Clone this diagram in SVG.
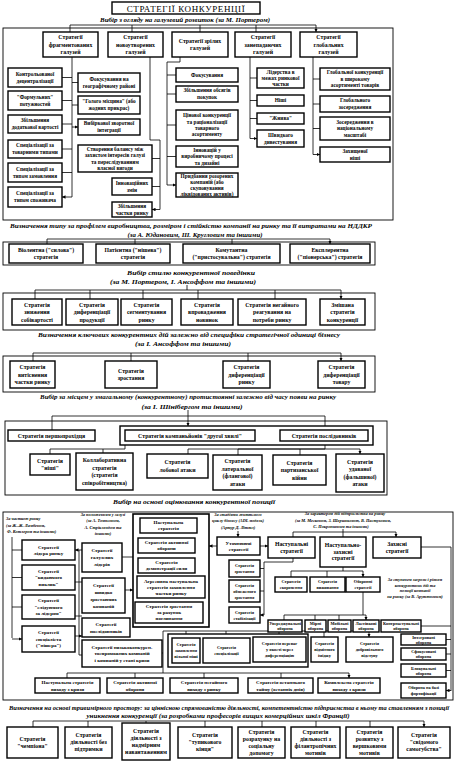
<svg xmlns="http://www.w3.org/2000/svg" width="456" height="765" viewBox="0 0 456 765">
<style>
.b{fill:#fff;stroke:#000;stroke-width:1.4}
.f{fill:none;stroke:#000;stroke-width:0.9}
.l{fill:none;stroke:#000;stroke-width:0.8}
.la{fill:none;stroke:#000;stroke-width:0.8;marker-end:url(#a)}
.ld{fill:none;stroke:#000;stroke-width:0.8;marker-end:url(#a);marker-start:url(#a)}
text{font-family:"Liberation Serif","Times New Roman",serif;font-weight:bold;text-anchor:middle;fill:#000}
.t{font-size:5.3px}
.tt{font-size:5.8px}
.s{font-size:5px}
.xs{font-size:4.3px}
.c{font-size:6.4px;font-style:italic}
.sc{font-size:4.3px;font-style:italic}
.h{font-size:9px;font-weight:normal;letter-spacing:0.6px}
</style>
<defs>
<marker id="a" viewBox="0 0 6 6" refX="6" refY="3" markerWidth="3.5" markerHeight="3.5" orient="auto-start-reverse" markerUnits="userSpaceOnUse"><path d="M0,0L6,3L0,6z"/></marker>
</defs>
<rect width="456" height="765" fill="#fff"/>

<g id="title"><rect class="b" x="112" y="2" width="148" height="12"/><text class="h" x="186" y="11.5">СТРАТЕГІЇ  КОНКУРЕНЦІЇ</text></g>
<g id="captions">
<text class="c" x="185" y="21.5" textLength="170" lengthAdjust="spacingAndGlyphs">Вибір з огляду на галузевий розвиток (за М. Портером)</text>
<text class="c" x="191" y="228" textLength="362" lengthAdjust="spacingAndGlyphs">Визначення типу за профілем виробництва, розміром і стійкістю компанії на ринку та її витратами на НДДКР</text>
<text class="c" x="195" y="237" textLength="135" lengthAdjust="spacingAndGlyphs">(за А. Юдановим, Ш. Кругловим та іншими)</text>
<text class="c" x="191" y="275" textLength="128" lengthAdjust="spacingAndGlyphs">Вибір стилю конкурентної поведінки</text>
<text class="c" x="183" y="284" textLength="146" lengthAdjust="spacingAndGlyphs">(за М. Портером, І. Ансоффом та іншими)</text>
<text class="c" x="189" y="337" textLength="302" lengthAdjust="spacingAndGlyphs">Визначення ключових конкурентних дій залежно від специфіки стратегічної одиниці бізнесу</text>
<text class="c" x="183" y="346" textLength="96" lengthAdjust="spacingAndGlyphs">(за І. Ансоффом та іншими)</text>
<text class="c" x="188" y="399" textLength="296" lengthAdjust="spacingAndGlyphs">Вибір за місцем у змагальному (конкурентному) протистоянні залежно від часу появи на ринку</text>
<text class="c" x="192" y="409" textLength="101" lengthAdjust="spacingAndGlyphs">(за І. Шінібергом та іншими)</text>
<text class="c" x="194" y="504" textLength="162" lengthAdjust="spacingAndGlyphs">Вибір на основі оцінювання конкурентної позиції</text>
<text class="c" x="229" y="710" textLength="440" lengthAdjust="spacingAndGlyphs">Визначення на основі тривимірного простору: за ціннісною спрямованістю діяльності, компетентністю підприємства в ньому та ставленням з позиції</text>
<text class="c" x="218" y="718" textLength="263" lengthAdjust="spacingAndGlyphs">уникнення конкуренції (за розробками професорів вищих комерційних шкіл Франції)</text>
<text class="sc" x="6" y="520" style="text-anchor:start">За часткою ринку</text>
<text class="sc" x="6" y="526.5" style="text-anchor:start">(за Ж.-Ж. Ламбеном,</text>
<text class="sc" x="7" y="533" style="text-anchor:start">Ф. Котлером та іншими)</text>
<text class="sc" x="103" y="515.5">За положенням у галузі</text>
<text class="sc" x="103" y="522">(за А. Томпсоном,</text>
<text class="sc" x="103" y="528.5">А. Стріклендом та</text>
<text class="sc" x="103" y="535">іншими)</text>
<text class="sc" x="238" y="515.5">За стадіями життєвого</text>
<text class="sc" x="238" y="522">циклу бізнесу (ADL модель)</text>
<text class="sc" x="238" y="528.5">(Артур Д. Літтл)</text>
<text class="sc" x="345" y="515">За характером дій підприємства на ринку</text>
<text class="sc" x="343" y="521.5">(за М. Месконом, З. Шершньовою, В. Пастуховим,</text>
<text class="sc" x="341" y="528">С. Покропивним та іншими)</text>
<text class="sc" x="415" y="581">За ступенем загрози і рівнем</text>
<text class="sc" x="415" y="586.5">конкурентних дій та</text>
<text class="sc" x="415" y="592">позиції компанії</text>
<text class="sc" x="415" y="597.5">на ринку (за В. Арутюновим)</text>
</g>

<g id="frames">
<rect class="f" x="3" y="28" width="390" height="192"/>
<rect class="f" x="3" y="242" width="372" height="23"/>
<rect class="f" x="3" y="293" width="372" height="37"/>
<rect class="f" x="3" y="356" width="372" height="36"/>
<rect class="f" x="5" y="421" width="382" height="74"/>
<rect class="f" x="3" y="512" width="450" height="188"/>
</g>

<g id="connectors">
<path class="l" d="M70,25H316"/>
<path class="la" d="M70,25V32M132,25V32M200,25V32M256,25V32M316,25V32"/>
<path class="l" d="M72,57V197"/>
<path class="la" d="M72,77.5H62M72,100.5H62M72,124H62M72,149H62M72,172.5H62M72,197H62"/>
<path class="la" d="M72,82.5H78M72,105H78M72,127H78"/>
<path class="l" d="M150,57V140H160V209.5"/>
<path class="la" d="M160,158.5H152M160,186.5H152M160,209.5H152"/>
<path class="l" d="M180,57V62H167V185"/>
<path class="la" d="M167,75H176M167,94H176M167,125H176M167,156.5H176M167,185H176"/>
<path class="l" d="M250,57V138.5"/>
<path class="la" d="M250,78H257M250,100.5H257M250,118.5H257M250,138.5H257"/>
<path class="l" d="M313,57V154.5"/>
<path class="la" d="M313,79H320M313,104H320M313,128.5H320M313,154.5H320"/>

<path class="l" d="M47,239H330"/>
<path class="la" d="M47,239V244M135,239V244M232,239V244M330,239V244"/>

<path class="l" d="M187,285V290M35,290H341"/>
<path class="la" d="M35,290V299M90,290V299M143,290V299M198,290V299M275,290V299M341,290V299"/>

<path class="l" d="M33,353H341"/>
<path class="la" d="M33,353V361M131,353V361M248,353V361M341,353V361"/>

<path class="l" d="M52,416H325"/>
<path class="la" d="M52,416V430M325,416V426M188,410V426"/>
<path class="l" d="M125,445V449H50M325,445V449H188M238,449H360"/>
<path class="la" d="M50,449V454M103,449V453M188,449V454M238,449V455M300,449V455M360,449V454"/>

<path class="l" d="M12,537V638"/>
<path class="la" d="M12,550H22M12,577.5H22M12,607H22M12,639H22"/>
<path class="ld" d="M75,550H82M75,582H82M75,616H82M75,636H82"/>
<path class="l" d="M79,550V655"/>
<path class="la" d="M79,655H82M122,557H133M125,590H133"/>
<path class="ld" d="M209,546H217M260,546H268"/>
<path class="la" d="M238,531V537"/>
<path class="l" d="M343,529V532M293,532H396"/>
<path class="la" d="M293,532V537M343,532V537M396,532V537"/>
<path class="l" d="M293,558V562H264V615"/>
<path class="la" d="M264,568.5H260M264,591H260M264,615H260"/>
<path class="l" d="M343,567V571M291,571H363"/>
<path class="la" d="M291,571V577M327,571V577M363,571V577"/>
<path class="l" d="M363,592V615M284,615H366"/>
<path class="la" d="M284,615V620M315,615V620M339,615V620M366,615V620"/>
<path class="l" d="M421,547H451V691"/>
<path class="la" d="M451,626H421M451,639.5H446M451,654H446M451,670.5H446M451,690.5H446"/>
<path class="l" d="M162,653H163M163,631V673M163,631H369M67,673H349"/>
<path class="la" d="M186,631V638M226,631V638M279,631V637M324,631V637M369,631V637"/>
<path class="la" d="M67,673V678M135,673V678M204,673V678M281,673V678M349,673V678"/>

<path class="l" d="M33,721H424"/>
<path class="la" d="M33,721V727M88,721V727M146,721V723M205,721V727M262,721V727M316,721V727M370,721V727M424,721V727"/>
</g>

<g id="s1_frag"><rect class="b" x="43" y="32" width="55" height="25"/><text class="tt" x="70.5" y="39">Стратегії<tspan x="70.5" dy="7.5">фрагментованих</tspan><tspan x="70.5" dy="7.5">галузей</tspan></text></g>
<g id="s1_new"><rect class="b" x="108" y="32" width="55" height="25"/><text class="tt" x="135.5" y="39">Стратегії<tspan x="135.5" dy="7.5">новоутворених</tspan><tspan x="135.5" dy="7.5">галузей</tspan></text></g>
<g id="s1_mature"><rect class="b" x="172" y="32" width="56" height="25"/><text class="tt" x="200" y="42.75">Стратегії зрілих<tspan x="200" dy="7.5">галузей</tspan></text></g>
<g id="s1_decl"><rect class="b" x="235" y="32" width="56" height="25"/><text class="tt" x="263" y="39">Стратегії<tspan x="263" dy="7.5">занепадаючих</tspan><tspan x="263" dy="7.5">галузей</tspan></text></g>
<g id="s1_glob"><rect class="b" x="300" y="32" width="57" height="25"/><text class="tt" x="328.5" y="39">Стратегії<tspan x="328.5" dy="7.5">глобальних</tspan><tspan x="328.5" dy="7.5">галузей</tspan></text></g>

<g id="f1"><rect class="b" x="8" y="68" width="54" height="19"/><text class="t" x="35" y="75.9">Контрольованої<tspan x="35" dy="7">децентралізації</tspan></text></g>
<g id="f2"><rect class="b" x="8" y="91" width="54" height="19"/><text class="t" x="35" y="98.9">"Формульних"<tspan x="35" dy="7">потужностей</tspan></text></g>
<g id="f3"><rect class="b" x="8" y="115" width="54" height="18"/><text class="t" x="35" y="122.4">Збільшення<tspan x="35" dy="7">додаткової вартості</tspan></text></g>
<g id="f4"><rect class="b" x="8" y="140" width="54" height="18"/><text class="t" x="35" y="147.4">Спеціалізації за<tspan x="35" dy="7">товарними типами</tspan></text></g>
<g id="f5"><rect class="b" x="8" y="163" width="54" height="19"/><text class="t" x="35" y="170.9">Спеціалізації за<tspan x="35" dy="7">типом замовлення</tspan></text></g>
<g id="f6"><rect class="b" x="8" y="187" width="54" height="20"/><text class="t" x="35" y="195.4">Спеціалізації за<tspan x="35" dy="7">типом споживача</tspan></text></g>
<g id="f7"><rect class="b" x="78" y="73" width="62" height="19"/><text class="t" x="109" y="80.9">Фокусування на<tspan x="109" dy="7">географічному районі</tspan></text></g>
<g id="f8"><rect class="b" x="78" y="96" width="62" height="18"/><text class="t" x="109" y="103.4">"Голого місцина" (або<tspan x="109" dy="7">жодних прикрас)</tspan></text></g>
<g id="f9"><rect class="b" x="78" y="119" width="62" height="16"/><text class="t" x="109" y="125.4">Вибіркової зворотної<tspan x="109" dy="7">інтеграції</tspan></text></g>
<g id="n1"><rect class="b" x="78" y="145" width="74" height="27"/><text class="t" x="115" y="150.9">Створення балансу між<tspan x="115" dy="6.3">захистом інтересів галузі</tspan><tspan x="115" dy="6.3">та переслідуванням</tspan><tspan x="115" dy="6.3">власної вигоди</tspan></text></g>
<g id="n2"><rect class="b" x="112" y="178" width="40" height="17"/><text class="t" x="132" y="184.9">Інноваційних<tspan x="132" dy="7">змін</tspan></text></g>
<g id="n3"><rect class="b" x="112" y="202" width="40" height="15"/><text class="t" x="132" y="207.9">Збільшення<tspan x="132" dy="7">частки ринку</tspan></text></g>
<g id="m1"><rect class="b" x="176" y="68" width="62" height="14"/><text class="t" x="207" y="76.9">Фокусування</text></g>
<g id="m2"><rect class="b" x="176" y="86" width="62" height="16"/><text class="t" x="207" y="92.4">Збільшення обсягів<tspan x="207" dy="7">покупок</tspan></text></g>
<g id="m3"><rect class="b" x="176" y="110" width="62" height="30"/><text class="t" x="207" y="117.4">Цінової конкуренції<tspan x="207" dy="6.3">та раціоналізації</tspan><tspan x="207" dy="6.3">товарного</tspan><tspan x="207" dy="6.3">асортименту</tspan></text></g>
<g id="m4"><rect class="b" x="176" y="146" width="62" height="21"/><text class="t" x="207" y="151.9">Інновацій у<tspan x="207" dy="6.5">виробничому процесі</tspan><tspan x="207" dy="6.5">та дизайні</tspan></text></g>
<g id="m5"><rect class="b" x="176" y="173" width="62" height="24"/><text class="t" x="207" y="178.2">Придбання розорених<tspan x="207" dy="5.8">компаній (або</tspan><tspan x="207" dy="5.8">скуповування</tspan><tspan x="207" dy="5.8">ліквідованих активів)</tspan></text></g>
<g id="d1"><rect class="b" x="257" y="68" width="47" height="20"/><text class="t" x="280.5" y="73.9">Лідерства в<tspan x="280.5" dy="6">межах ринкової</tspan><tspan x="280.5" dy="6">частки</tspan></text></g>
<g id="d2"><rect class="b" x="257" y="95" width="47" height="11"/><text class="t" x="280.5" y="102.4">Ніші</text></g>
<g id="d3"><rect class="b" x="257" y="113" width="47" height="11"/><text class="t" x="280.5" y="120.4">"Жнива"</text></g>
<g id="d4"><rect class="b" x="257" y="130" width="47" height="17"/><text class="t" x="280.5" y="136.9">Швидкого<tspan x="280.5" dy="7">дивестування</tspan></text></g>
<g id="g1"><rect class="b" x="320" y="68" width="70" height="22"/><text class="t" x="355" y="74.4">Глобальної конкуренції<tspan x="355" dy="6.5">в широкому</tspan><tspan x="355" dy="6.5">асортименті товарів</tspan></text></g>
<g id="g2"><rect class="b" x="320" y="96" width="70" height="16"/><text class="t" x="355" y="102.4">Глобального<tspan x="355" dy="7">зосередження</tspan></text></g>
<g id="g3"><rect class="b" x="320" y="117" width="70" height="23"/><text class="t" x="355" y="123.9">Зосередження в<tspan x="355" dy="6.5">національному</tspan><tspan x="355" dy="6.5">масштабі</tspan></text></g>
<g id="g4"><rect class="b" x="320" y="147" width="70" height="15"/><text class="t" x="355" y="152.9">Захищеної<tspan x="355" dy="7">ніші</tspan></text></g>

<g id="s2a"><rect class="b" x="9" y="244" width="74" height="19"/><text class="tt" x="46" y="251.9">Віолентна ("силова")<tspan x="46" dy="7.5">стратегія</tspan></text></g>
<g id="s2b"><rect class="b" x="96" y="244" width="74" height="19"/><text class="tt" x="133" y="251.9">Патієнтна ("нішева")<tspan x="133" dy="7.5">стратегія</tspan></text></g>
<g id="s2c"><rect class="b" x="183" y="244" width="97" height="19"/><text class="tt" x="231.5" y="251.9">Комутантна<tspan x="231.5" dy="7.5">("пристосувальна") стратегія</tspan></text></g>
<g id="s2d"><rect class="b" x="290" y="244" width="80" height="19"/><text class="tt" x="330" y="251.9">Експлерентна<tspan x="330" dy="7.5">("піонерська") стратегія</tspan></text></g>

<g id="s3a"><rect class="b" x="12" y="299" width="50" height="26"/><text class="tt" x="37" y="306.5">Стратегія<tspan x="37" dy="7.5">зниження</tspan><tspan x="37" dy="7.5">собівартості</tspan></text></g>
<g id="s3b"><rect class="b" x="66" y="299" width="52" height="26"/><text class="tt" x="92" y="306.5">Стратегія<tspan x="92" dy="7.5">диференціації</tspan><tspan x="92" dy="7.5">продукції</tspan></text></g>
<g id="s3c"><rect class="b" x="121" y="299" width="51" height="26"/><text class="tt" x="146.5" y="306.5">Стратегія<tspan x="146.5" dy="7.5">сегментування</tspan><tspan x="146.5" dy="7.5">ринку</tspan></text></g>
<g id="s3d"><rect class="b" x="181" y="299" width="52" height="26"/><text class="tt" x="207" y="306.5">Стратегія<tspan x="207" dy="7.5">впровадження</tspan><tspan x="207" dy="7.5">новинок</tspan></text></g>
<g id="s3e"><rect class="b" x="238" y="299" width="68" height="26"/><text class="tt" x="272" y="306.5">Стратегія  негайного<tspan x="272" dy="7.5">реагування на</tspan><tspan x="272" dy="7.5">потреби ринку</tspan></text></g>
<g id="s3f"><rect class="b" x="320" y="299" width="45" height="26"/><text class="tt" x="342.5" y="306.5">Змішана<tspan x="342.5" dy="7.5">стратегія</tspan><tspan x="342.5" dy="7.5">конкуренції</tspan></text></g>

<g id="s4a"><rect class="b" x="10" y="361" width="45" height="27"/><text class="tt" x="32.5" y="369">Стратегія<tspan x="32.5" dy="7.5">витіснення</tspan><tspan x="32.5" dy="7.5">частки ринку</tspan></text></g>
<g id="s4b"><rect class="b" x="105" y="361" width="52" height="27"/><text class="tt" x="131" y="372.75">Стратегія<tspan x="131" dy="7.5">зростання</tspan></text></g>
<g id="s4c"><rect class="b" x="223" y="361" width="47" height="27"/><text class="tt" x="246.5" y="369">Стратегія<tspan x="246.5" dy="7.5">диференціації</tspan><tspan x="246.5" dy="7.5">ринку</tspan></text></g>
<g id="s4d"><rect class="b" x="318" y="361" width="47" height="27"/><text class="tt" x="341.5" y="369">Стратегія<tspan x="341.5" dy="7.5">диференціації</tspan><tspan x="341.5" dy="7.5">товару</tspan></text></g>

<g id="s5a"><rect class="b" x="8" y="430" width="87" height="11"/><text class="tt" x="51.5" y="437.5">Стратегія  першопрохідця</text></g>
<g id="s5grp"><rect class="b" x="120" y="426" width="253" height="19"/></g>
<g id="s5b"><rect class="b" x="125" y="430" width="130" height="11"/><text class="tt" x="190" y="437.5">Стратегія компаньйонів "другої хвилі"</text></g>
<g id="s5c"><rect class="b" x="280" y="430" width="88" height="11"/><text class="tt" x="324" y="437.5">Стратегія  послідовників</text></g>
<g id="s5d"><rect class="b" x="30" y="454" width="40" height="21"/><text class="tt" x="50" y="463">Стратегія<tspan x="50" dy="7">"ніші"</tspan></text></g>
<g id="s5e"><rect class="b" x="76" y="453" width="57" height="37"/><text class="tt" x="104.5" y="462.25">Коллаборативна<tspan x="104.5" dy="7.5">стратегія</tspan><tspan x="104.5" dy="7.5">(стратегія</tspan><tspan x="104.5" dy="7.5">співробітництва)</tspan></text></g>
<g id="s5f"><rect class="b" x="147" y="454" width="61" height="24"/><text class="tt" x="177.5" y="464.25">Стратегія<tspan x="177.5" dy="7.5">лобової атаки</tspan></text></g>
<g id="s5g"><rect class="b" x="213" y="455" width="49" height="35"/><text class="tt" x="237.5" y="463.25">Стратегія<tspan x="237.5" dy="7.5">латеральної</tspan><tspan x="237.5" dy="7.5">(флангової)</tspan><tspan x="237.5" dy="7.5">атаки</tspan></text></g>
<g id="s5h"><rect class="b" x="273" y="455" width="53" height="30"/><text class="tt" x="299.5" y="464.5">Стратегія<tspan x="299.5" dy="7.5">партизанської</tspan><tspan x="299.5" dy="7.5">війни</tspan></text></g>
<g id="s5i"><rect class="b" x="336" y="454" width="48" height="38"/><text class="tt" x="360" y="463.75">Стратегія<tspan x="360" dy="7.5">удаваної</tspan><tspan x="360" dy="7.5">(фальшивої)</tspan><tspan x="360" dy="7.5">атаки</tspan></text></g>

<g id="p1"><rect class="b" x="22" y="540" width="53" height="20"/><text class="s" x="48.5" y="548.75">Стратегії<tspan x="48.5" dy="6">лідера ринку</tspan></text></g>
<g id="p2"><rect class="b" x="22" y="565" width="53" height="25"/><text class="s" x="48.5" y="572.75">Стратегії<tspan x="48.5" dy="6.5">"кидаючого</tspan><tspan x="48.5" dy="6.5">виклик"</tspan></text></g>
<g id="p3"><rect class="b" x="22" y="595" width="53" height="24"/><text class="s" x="48.5" y="602.25">Стратегії<tspan x="48.5" dy="6.5">"слідуючого</tspan><tspan x="48.5" dy="6.5">за лідером"</tspan></text></g>
<g id="p4"><rect class="b" x="22" y="626" width="53" height="26"/><text class="s" x="48.5" y="634.25">Стратегії<tspan x="48.5" dy="6.5">спеціаліста</tspan><tspan x="48.5" dy="6.5">("нішера")</tspan></text></g>
<g id="q1"><rect class="b" x="82" y="543" width="40" height="29"/><text class="s" x="102" y="552.25">Стратегії<tspan x="102" dy="7">галузевих</tspan><tspan x="102" dy="7">лідерів</tspan></text></g>
<g id="q2"><rect class="b" x="82" y="578" width="43" height="35"/><text class="s" x="103.5" y="586.75">Стратегії<tspan x="103.5" dy="7">швидко</tspan><tspan x="103.5" dy="7">зростаючих</tspan><tspan x="103.5" dy="7">компаній</tspan></text></g>
<g id="q3"><rect class="b" x="82" y="618" width="48" height="19"/><text class="s" x="106" y="626">Стратегії<tspan x="106" dy="6.5">послідовників</tspan></text></g>
<g id="q4"><rect class="b" x="82" y="640" width="80" height="27"/><text class="s" x="122" y="648.75">Стратегії низькоконкурен-<tspan x="122" dy="6.5">тоспроможних компаній</tspan><tspan x="122" dy="6.5">і компаній у стані кризи</tspan></text></g>
<g id="rgrp"><rect class="b" x="133" y="514" width="76" height="113" style="stroke-width:1.6"/></g>
<g id="r1"><rect class="b" x="140" y="518" width="57" height="15"/><text class="s" x="168.5" y="524.25">Наступальна<tspan x="168.5" dy="6">стратегія</tspan></text></g>
<g id="r2"><rect class="b" x="138" y="538" width="57" height="15"/><text class="s" x="166.5" y="544.25">Стратегія активної<tspan x="166.5" dy="6">оборони</tspan></text></g>
<g id="r3"><rect class="b" x="138" y="558" width="57" height="15"/><text class="s" x="166.5" y="564.25">Стратегія<tspan x="166.5" dy="6">демонстрації сили</tspan></text></g>
<g id="r4"><rect class="b" x="137" y="576" width="68" height="22"/><text class="s" x="171" y="582.75">Агресивна наступальна<tspan x="171" dy="6">стратегія захоплення</tspan><tspan x="171" dy="6">частки ринку</tspan></text></g>
<g id="r5"><rect class="b" x="135" y="602" width="68" height="21"/><text class="s" x="169" y="608.25">Стратегія зростання<tspan x="169" dy="6">за рахунок</tspan><tspan x="169" dy="6">поглинання</tspan></text></g>
<g id="u1"><rect class="b" x="217" y="537" width="43" height="18"/><text class="s" x="238.5" y="544.75">Уточнюючі<tspan x="238.5" dy="6">стратегії</tspan></text></g>
<g id="u2"><rect class="b" x="229" y="560" width="31" height="17"/><text class="xs" x="244.5" y="567.2">Стратегія<tspan x="244.5" dy="6">зростання</tspan></text></g>
<g id="u3"><rect class="b" x="229" y="580" width="31" height="22"/><text class="xs" x="244.5" y="586.7">Стратегія<tspan x="244.5" dy="6">обмеженого</tspan><tspan x="244.5" dy="6">зростання</tspan></text></g>
<g id="u4"><rect class="b" x="229" y="607" width="31" height="16"/><text class="xs" x="244.5" y="613.7">Стратегія<tspan x="244.5" dy="6">стабілізації</tspan></text></g>
<g id="v1"><rect class="b" x="268" y="537" width="47" height="21"/><text class="tt" x="291.5" y="546.15">Наступальні<tspan x="291.5" dy="6.5">стратегії</tspan></text></g>
<g id="v2"><rect class="b" x="320" y="537" width="46" height="30"/><text class="tt" x="343" y="547.4">Наступально-<tspan x="343" dy="6.5">захисні</tspan><tspan x="343" dy="6.5">стратегії</tspan></text></g>
<g id="v3"><rect class="b" x="373" y="537" width="48" height="21"/><text class="tt" x="397" y="546.15">Захисні<tspan x="397" dy="6.5">стратегії</tspan></text></g>
<g id="w1"><rect class="b" x="275" y="577" width="32" height="15"/><text class="xs" x="291" y="583.2">Стратегія<tspan x="291" dy="6">скорочення</tspan></text></g>
<g id="w2"><rect class="b" x="310" y="577" width="35" height="15"/><text class="xs" x="327.5" y="583.2">Стратегія<tspan x="327.5" dy="6">виживання</tspan></text></g>
<g id="w3"><rect class="b" x="346" y="577" width="34" height="15"/><text class="xs" x="363" y="583.2">Оборонні<tspan x="363" dy="6">стратегії</tspan></text></g>
<g id="o1"><rect class="b" x="268" y="620" width="34" height="12"/><text class="xs" x="285" y="625">Упереджувальні<tspan x="285" dy="5">оборона</tspan></text></g>
<g id="o2"><rect class="b" x="305" y="620" width="21" height="12"/><text class="xs" x="315.5" y="625">Мірні<tspan x="315.5" dy="5">оборона</tspan></text></g>
<g id="o3"><rect class="b" x="328" y="620" width="23" height="12"/><text class="xs" x="339.5" y="625">Мобільні<tspan x="339.5" dy="5">оборона</tspan></text></g>
<g id="o4"><rect class="b" x="353" y="620" width="26" height="12"/><text class="xs" x="366" y="625">Ластівкові<tspan x="366" dy="5">оборона</tspan></text></g>
<g id="o5"><rect class="b" x="381" y="620" width="40" height="12"/><text class="xs" x="401" y="625">Контрнаступальні<tspan x="401" dy="5">оборона</tspan></text></g>
<g id="k1"><rect class="b" x="401" y="634" width="45" height="11"/><text class="xs" x="423.5" y="638.5">Інтегровані<tspan x="423.5" dy="5">оборона</tspan></text></g>
<g id="k2"><rect class="b" x="401" y="648" width="45" height="12"/><text class="xs" x="423.5" y="653">Сфокусовані<tspan x="423.5" dy="5">оборона</tspan></text></g>
<g id="k3"><rect class="b" x="401" y="664" width="45" height="13"/><text class="xs" x="423.5" y="669.5">Блокувальні<tspan x="423.5" dy="5">оборона</tspan></text></g>
<g id="k4"><rect class="b" x="401" y="683" width="45" height="15"/><text class="xs" x="423.5" y="689.3">Оборона на базі<tspan x="423.5" dy="5.5">фортифікації</tspan></text></g>
<g id="zgrp"><rect class="b" x="168" y="634" width="140" height="33"/></g>
<g id="z1"><rect class="b" x="172" y="638" width="28" height="25"/><text class="xs" x="186" y="645.7">Стратегія<tspan x="186" dy="6">захоплення</tspan><tspan x="186" dy="6">вільної ніші</tspan></text></g>
<g id="z2"><rect class="b" x="203" y="638" width="47" height="25"/><text class="xs" x="226.5" y="648.7">Стратегія<tspan x="226.5" dy="6">спеціалізації</tspan></text></g>
<g id="z3"><rect class="b" x="253" y="637" width="53" height="25"/><text class="xs" x="279.5" y="645.2">Стратегія переваг<tspan x="279.5" dy="6">у якості через</tspan><tspan x="279.5" dy="6">диференціацію</tspan></text></g>
<g id="z4"><rect class="b" x="311" y="637" width="27" height="25"/><text class="xs" x="324.5" y="645.2">Стратегія<tspan x="324.5" dy="6">відмітного</tspan><tspan x="324.5" dy="6">іміджу</tspan></text></g>
<g id="z5"><rect class="b" x="346" y="637" width="47" height="25"/><text class="xs" x="369.5" y="645.2">Стратегія<tspan x="369.5" dy="6">добровільного</tspan><tspan x="369.5" dy="6">відступу</tspan></text></g>
<g id="e1"><rect class="b" x="35" y="678" width="65" height="15"/><text class="s" x="67.5" y="684">Наступальна стратегія<tspan x="67.5" dy="6.5">виходу з кризи</tspan></text></g>
<g id="e2"><rect class="b" x="107" y="678" width="56" height="15"/><text class="s" x="135" y="684">Стратегія активної<tspan x="135" dy="6.5">оборони</tspan></text></g>
<g id="e3"><rect class="b" x="170" y="678" width="68" height="15"/><text class="s" x="204" y="684">Стратегія негайного<tspan x="204" dy="6.5">виходу з ринку</tspan></text></g>
<g id="e4"><rect class="b" x="248" y="678" width="65" height="15"/><text class="s" x="280.5" y="684">Стратегія останнього<tspan x="280.5" dy="6.5">тайму (останніх днів)</tspan></text></g>
<g id="e5"><rect class="b" x="318" y="678" width="62" height="15"/><text class="s" x="349" y="684">Комплексна стратегія<tspan x="349" dy="6.5">виходу з кризи</tspan></text></g>

<g id="h1"><rect class="b" x="7" y="727" width="51" height="31"/><text class="tt" x="32.5" y="740.9">Стратегія<tspan x="32.5" dy="7">"чемпіона"</tspan></text></g>
<g id="h2"><rect class="b" x="65" y="727" width="47" height="31"/><text class="tt" x="88.5" y="737.4">Стратегія<tspan x="88.5" dy="7">діяльності без</tspan><tspan x="88.5" dy="7">підтримки</tspan></text></g>
<g id="h3"><rect class="b" x="122" y="723" width="48" height="37"/><text class="tt" x="146" y="732.9">Стратегія<tspan x="146" dy="7">діяльності з</tspan><tspan x="146" dy="7">надмірним</tspan><tspan x="146" dy="7">навантаженням</tspan></text></g>
<g id="h4"><rect class="b" x="178" y="727" width="54" height="31"/><text class="tt" x="205" y="737.4">Стратегія<tspan x="205" dy="7">"тупикового</tspan><tspan x="205" dy="7">кінця"</tspan></text></g>
<g id="h5"><rect class="b" x="238" y="727" width="47" height="31"/><text class="tt" x="261.5" y="733.9">Стратегія<tspan x="261.5" dy="7">розрахунку на</tspan><tspan x="261.5" dy="7">соціальну</tspan><tspan x="261.5" dy="7">допомогу</tspan></text></g>
<g id="h6"><rect class="b" x="291" y="727" width="49" height="31"/><text class="tt" x="315.5" y="733.9">Стратегія<tspan x="315.5" dy="7">діяльності з</tspan><tspan x="315.5" dy="7">філантропічних</tspan><tspan x="315.5" dy="7">мотивів</tspan></text></g>
<g id="h7"><rect class="b" x="346" y="727" width="47" height="31"/><text class="tt" x="369.5" y="733.9">Стратегія<tspan x="369.5" dy="7">розвитку з</tspan><tspan x="369.5" dy="7">вершковими</tspan><tspan x="369.5" dy="7">мотивів</tspan></text></g>
<g id="h8"><rect class="b" x="398" y="727" width="52" height="31"/><text class="tt" x="424" y="737.4">Стратегія<tspan x="424" dy="7">"свідомого</tspan><tspan x="424" dy="7">самогубства"</tspan></text></g>
</svg>
